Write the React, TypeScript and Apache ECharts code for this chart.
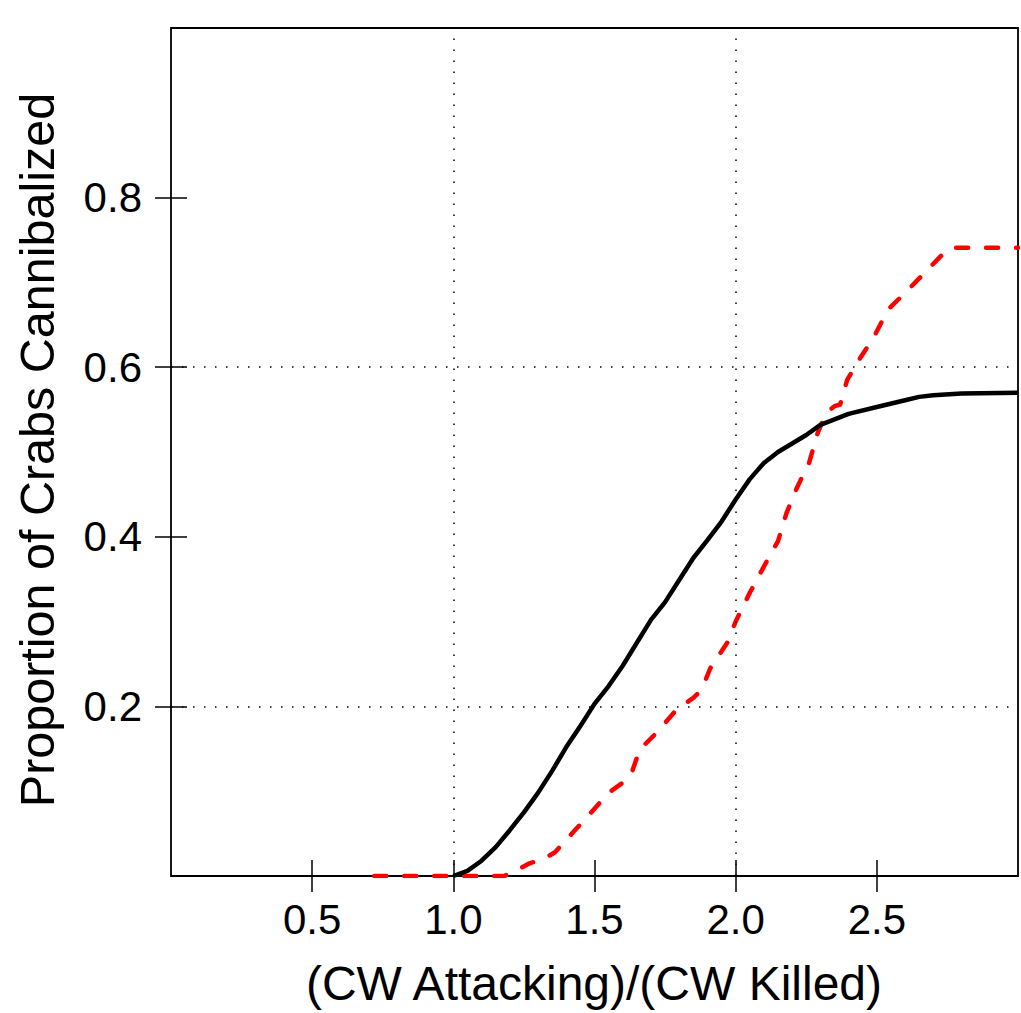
import React, { useEffect, useRef } from "react";
import * as echarts from "echarts";

const blackX = [1.0, 1.05, 1.1, 1.15, 1.2, 1.25, 1.3, 1.35, 1.4, 1.45, 1.5, 1.55, 1.6, 1.65, 1.7, 1.75, 1.8, 1.85, 1.9, 1.95, 2.0, 2.05, 2.1, 2.15, 2.2, 2.25, 2.3, 2.4, 2.5, 2.6, 2.65, 2.7, 2.8, 3.0];
const blackY = [0, 0.006, 0.018, 0.034, 0.054, 0.075, 0.098, 0.124, 0.152, 0.177, 0.203, 0.224, 0.248, 0.275, 0.302, 0.323, 0.349, 0.375, 0.396, 0.418, 0.444, 0.468, 0.487, 0.5, 0.51, 0.52, 0.532, 0.545, 0.553, 0.561, 0.565, 0.567, 0.569, 0.57];

const redX = [0.72, 1.18, 1.22, 1.27, 1.32, 1.36, 1.42, 1.48, 1.55, 1.6, 1.63, 1.66, 1.72, 1.79, 1.85, 1.88, 1.91, 1.97, 2.0, 2.05, 2.1, 2.15, 2.18, 2.22, 2.26, 2.29, 2.32, 2.35, 2.37, 2.395, 2.43, 2.49, 2.54, 2.61, 2.68, 2.75, 2.78, 3.0];
const redY = [0, 0, 0.006, 0.015, 0.02, 0.028, 0.05, 0.072, 0.098, 0.11, 0.12, 0.149, 0.169, 0.196, 0.21, 0.22, 0.245, 0.275, 0.3, 0.334, 0.365, 0.395, 0.428, 0.46, 0.487, 0.522, 0.546, 0.554, 0.556, 0.585, 0.605, 0.636, 0.668, 0.691, 0.715, 0.739, 0.741, 0.741];

const xTicks = [0.5, 1.0, 1.5, 2.0, 2.5];
const yTicks = [0.2, 0.4, 0.6, 0.8];
const gridX = [1.0, 2.0];
const gridY = [0.2, 0.6];

const xTitle = "(CW Attacking)/(CW Killed)";
const yTitle = "Proportion of Crabs Cannibalized";

const FONT = "'Liberation Sans', Arial, sans-serif";

export default function App() {
  const ref = useRef<HTMLDivElement>(null);
  useEffect(() => {
    if (!ref.current) return;
    const chart = echarts.init(ref.current, null, { renderer: "svg" });
    const L = 171, T = 28, R = 3, B = 137;
    const tickStyle = { color: "#000", width: 1.5 };
    const option: any = {
      animation: false,
      backgroundColor: "#fff",
      grid: { left: L, right: R, top: T, bottom: B, show: true, borderColor: "#000", borderWidth: 1.8, backgroundColor: "transparent" },
      xAxis: [
        {
          type: "value", min: 0, max: 3, interval: 0.5, position: "bottom",
          axisLine: { show: false },
          splitLine: { show: false },
          axisTick: { show: true, inside: false, length: 16, lineStyle: tickStyle, customValues: xTicks },
          axisLabel: { show: true, customValues: xTicks, formatter: (v: number) => v.toFixed(1), fontSize: 42, fontFamily: FONT, color: "#000", margin: 22 },
        },
        {
          type: "value", min: 0, max: 3, interval: 0.5, position: "top",
          axisLine: { show: false },
          splitLine: { show: false },
          axisTick: { show: true, inside: false, length: 16, lineStyle: tickStyle, customValues: xTicks },
          axisLabel: { show: false },
        },
      ],
      yAxis: [
        {
          type: "value", min: 0, max: 1, interval: 0.2, position: "left",
          axisLine: { show: false },
          splitLine: { show: false },
          axisTick: { show: true, inside: false, length: 16, lineStyle: tickStyle, customValues: yTicks },
          axisLabel: { show: true, customValues: yTicks, formatter: (v: number) => v.toFixed(1), fontSize: 42, fontFamily: FONT, color: "#000", margin: 29 },
        },
        {
          type: "value", min: 0, max: 1, interval: 0.2, position: "right",
          axisLine: { show: false },
          splitLine: { show: false },
          axisTick: { show: true, inside: false, length: 16, lineStyle: tickStyle, customValues: yTicks },
          axisLabel: { show: false },
        },
      ],
      graphic: [
        {
          type: "text", x: 594, y: 983,
          style: { text: xTitle, font: `48px ${FONT}`, fill: "#000", textAlign: "center", textVerticalAlign: "middle" },
        },
        {
          type: "text", x: 37, y: 450, rotation: Math.PI / 2,
          style: { text: yTitle, font: `48.5px ${FONT}`, fill: "#000", textAlign: "center", textVerticalAlign: "middle" },
        },
      ],
      series: [
        {
          type: "line",
          xAxisIndex: 0, yAxisIndex: 0,
          data: [],
          silent: true,
          markLine: {
            silent: true,
            symbol: ["none", "none"],
            label: { show: false },
            lineStyle: { color: "#000", width: 1.5, type: [1.5, 9.5] },
            data: [
              ...gridX.map((v) => ({ xAxis: v })),
              ...gridY.map((v) => ({ yAxis: v })),
            ],
          },
        },
        {
          type: "line",
          name: "red",
          xAxisIndex: 0, yAxisIndex: 0,
          data: redX.map((x, i) => [x, redY[i]]),
          showSymbol: false,
          lineStyle: { color: "#ff0000", width: 4.5, type: [12, 18], cap: "round", join: "round" },
          z: 3,
        },
        {
          type: "line",
          name: "black",
          xAxisIndex: 0, yAxisIndex: 0,
          data: blackX.map((x, i) => [x, blackY[i]]),
          showSymbol: false,
          lineStyle: { color: "#000", width: 4.5, join: "round" },
          z: 4,
        },
      ],
    };
    chart.setOption(option);
    return () => chart.dispose();
  }, []);
  return <div ref={ref} style={{ position: "absolute", left: 0, top: 0, width: 1021, height: 1013 }} />;
}
